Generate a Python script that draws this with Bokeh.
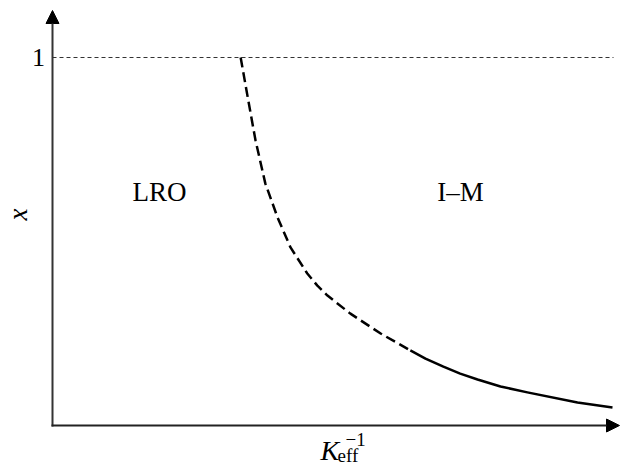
from bokeh.plotting import figure
from bokeh.models import Range1d, Arrow, NormalHead, Label
from bokeh.embed import file_html
from bokeh.resources import INLINE
import math

# ---- data (in axis units: x = K_eff^-1, y = x) ----
dashed_x = [0.336, 0.348, 0.3625, 0.380, 0.402, 0.425, 0.455, 0.473, 0.491, 0.532, 0.586, 0.639]
dashed_y = [1.000, 0.897, 0.775, 0.658, 0.565, 0.484, 0.413, 0.380, 0.353, 0.304, 0.250, 0.204]
solid_x = [0.639, 0.666, 0.698, 0.728, 0.759, 0.800, 0.848, 0.9375, 1.000]
solid_y = [0.204, 0.182, 0.160, 0.141, 0.125, 0.106, 0.090, 0.0625, 0.049]
y_tick_value = 1.0
y_tick_label = "1"
region_labels = ["LRO", "I\u2013M"]

W, H = 620, 466
# page-pixel -> data helpers
def dx(px):
    return (px - 52) / 560.0
def dy(py):
    return (425 - py) / 368.0

p = figure(width=W, height=H, output_backend="svg", toolbar_location=None,
           x_axis_type=None, y_axis_type=None, min_border=0,
           x_range=Range1d(dx(0), dx(W)), y_range=Range1d(dy(H), dy(0)))
p.outline_line_color = None
p.grid.visible = False
p.background_fill_color = "white"

# dashed level line at x = 1
p.line([0, dx(613)], [y_tick_value, y_tick_value], line_color="#333333",
       line_width=1.2, line_dash="4 3")

# curve
p.line(dashed_x, dashed_y, line_color="black", line_width=2.5, line_dash="10 5",
       line_join="round")
p.line(solid_x, solid_y, line_color="black", line_width=2.5, line_join="round")

# axes with arrows
p.add_layout(Arrow(x_start=0, y_start=dy(426), x_end=0, y_end=dy(10),
                   line_color="#333333", line_width=2,
                   end=NormalHead(size=13, fill_color="black", line_color="black",
                                  line_width=1)))
p.add_layout(Arrow(x_start=dx(51), y_start=0, x_end=dx(619), y_end=0,
                   line_color="#222222", line_width=2,
                   end=NormalHead(size=13, fill_color="black", line_color="black",
                                  line_width=1)))

serif = "Liberation Serif"
# tick label "1"
p.add_layout(Label(x=dx(38), y=y_tick_value, text=y_tick_label, text_font=serif,
                   text_font_size="26px", text_align="center", text_baseline="middle",
                   text_color="black"))

# region labels
p.add_layout(Label(x=dx(159), y=dy(191), text=region_labels[0], text_font=serif,
                   text_font_size="27px", text_align="center", text_baseline="middle",
                   text_color="black"))
p.add_layout(Label(x=dx(460), y=dy(191), text=region_labels[1], text_font=serif,
                   text_font_size="27px", text_align="center", text_baseline="middle",
                   text_color="black"))

# y axis label (italic x, rotated)
p.add_layout(Label(x=dx(17), y=dy(214), text="x", text_font=serif, text_font_style="italic",
                   text_font_size="27px", text_align="center", text_baseline="middle",
                   angle=math.pi / 2, text_color="black"))

# x axis label K_eff^-1
p.add_layout(Label(x=dx(320), y=dy(450), text="K", text_font=serif, text_font_style="italic",
                   text_font_size="28px", text_align="left", text_baseline="alphabetic",
                   text_color="black"))
p.add_layout(Label(x=dx(337), y=dy(455), text="eff", text_font=serif,
                   text_font_size="19px", text_align="left", text_baseline="alphabetic",
                   text_color="black"))
p.add_layout(Label(x=dx(345), y=dy(439), text="\u22121", text_font=serif,
                   text_font_size="19px", text_align="left", text_baseline="alphabetic",
                   text_color="black"))

open("out.html", "w").write(file_html(p, INLINE))
